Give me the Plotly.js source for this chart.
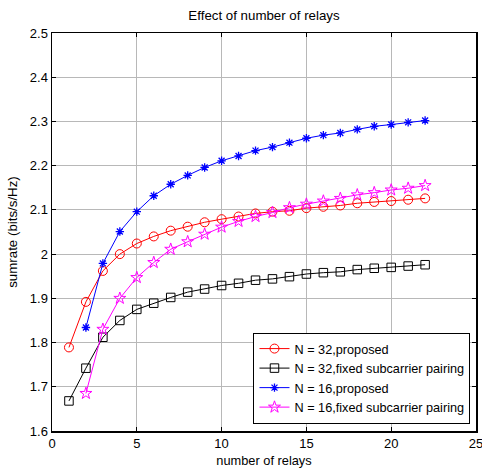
<!DOCTYPE html>
<html><head><meta charset="utf-8">
<script src="https://cdn.plot.ly/plotly-3.0.1.min.js"></script>
<style>html,body{margin:0;padding:0;background:#fff}#c{width:482px;height:474px}</style>
</head><body><div id="c"></div>
<script>
var relays = [1,2,3,4,5,6,7,8,9,10,11,12,13,14,15,16,17,18,19,20,21,22];
var relays2 = [2,3,4,5,6,7,8,9,10,11,12,13,14,15,16,17,18,19,20,21,22];
var n32Proposed = [1.789,1.892,1.962,2.000,2.024,2.040,2.053,2.062,2.072,2.079,2.085,2.092,2.096,2.098,2.104,2.107,2.110,2.115,2.118,2.120,2.123,2.126];
var n32Fixed = [1.668,1.742,1.812,1.850,1.875,1.889,1.902,1.914,1.921,1.929,1.934,1.941,1.944,1.949,1.955,1.958,1.960,1.965,1.968,1.970,1.973,1.976];
var n16Proposed = [1.834,1.979,2.051,2.096,2.132,2.158,2.178,2.196,2.211,2.222,2.234,2.242,2.252,2.262,2.269,2.274,2.282,2.289,2.293,2.298,2.302];
var n16Fixed = [1.685,1.830,1.900,1.947,1.981,2.011,2.028,2.045,2.061,2.074,2.085,2.094,2.105,2.113,2.120,2.126,2.134,2.139,2.145,2.149,2.155];
var seriesNames = ['N = 32,proposed','N = 32,fixed subcarrier pairing','N = 16,proposed','N = 16,fixed subcarrier pairing'];
var xTicks = [0,5,10,15,20,25];
var yTicks = [1.6,1.7,1.8,1.9,2,2.1,2.2,2.3,2.4,2.5];
var yTickText = ['1.6','1.7','1.8','1.9','2','2.1','2.2','2.3','2.4','2.5'];

var font = 'Liberation Sans, Arial, sans-serif';
var traces = [
 {x: relays, y: n32Proposed, name: seriesNames[0], mode:'lines+markers', line:{color:'#ff0000', width:1},
  marker:{symbol:'circle-open', size:9, color:'#ff0000', line:{width:1}}},
 {x: relays, y: n32Fixed, name: seriesNames[1], mode:'lines+markers', line:{color:'#000000', width:1},
  marker:{symbol:'square-open', size:8.5, color:'#000000', line:{width:1}}},
 {x: relays2, y: n16Proposed, name: seriesNames[2], mode:'lines+markers', line:{color:'#0000ff', width:1},
  marker:{symbol:'asterisk-open', size:7, color:'#0000ff', line:{width:1.3, color:'#0000ff'}}},
 {x: relays2, y: n16Fixed, name: seriesNames[3], mode:'lines+markers', line:{color:'#ff00ff', width:1},
  marker:{symbol:'star-open', size:9, color:'#ff00ff', line:{width:1}}}
];
var layout = {
  width: 482, height: 474,
  margin: {l:52, r:6, t:33, b:43},
  paper_bgcolor:'#fff', plot_bgcolor:'#fff',
  font: {family: font, size: 13, color:'#000'},
  title: {text:'Effect of number of relays', font:{family:font, size:13.3, color:'#000'}, xref:'paper', x:0.5, xanchor:'center', y:0.968, yanchor:'middle'},
  xaxis: {range:[0,25], tickvals:xTicks, showgrid:true, gridcolor:'#b8b8b8', gridwidth:1, ticklabeloverflow:'allow',
    zeroline:false, showline:true, linecolor:'#000', linewidth:1.5, mirror:'ticks', ticks:'inside', ticklen:4, tickcolor:'#000',
    tickfont:{family:font, size:13, color:'#000'},
    title:{text:'number of relays', font:{family:font, size:12.8, color:'#000'}, standoff:6}},
  yaxis: {range:[1.6,2.5], tickvals:yTicks, ticktext:yTickText,
    showgrid:true, gridcolor:'#b8b8b8', gridwidth:1,
    zeroline:false, showline:true, linecolor:'#000', linewidth:1.5, mirror:'ticks', ticks:'inside', ticklen:4, tickcolor:'#000',
    tickfont:{family:font, size:13, color:'#000'},
    title:{text:'sumrate (bits/s/Hz)', font:{family:font, size:13.3, color:'#000'}, standoff:9}},
  legend: {x:0.987, xanchor:'right', y:0.018, yanchor:'bottom', bgcolor:'#fff', bordercolor:'#000', borderwidth:1,
    font:{family:font, size:12.7, color:'#000'}, tracegroupgap:0, itemwidth:30},
  showlegend: true
};
Plotly.newPlot('c', traces, layout, {displayModeBar:false, staticPlot:true});
</script>
</body></html>
